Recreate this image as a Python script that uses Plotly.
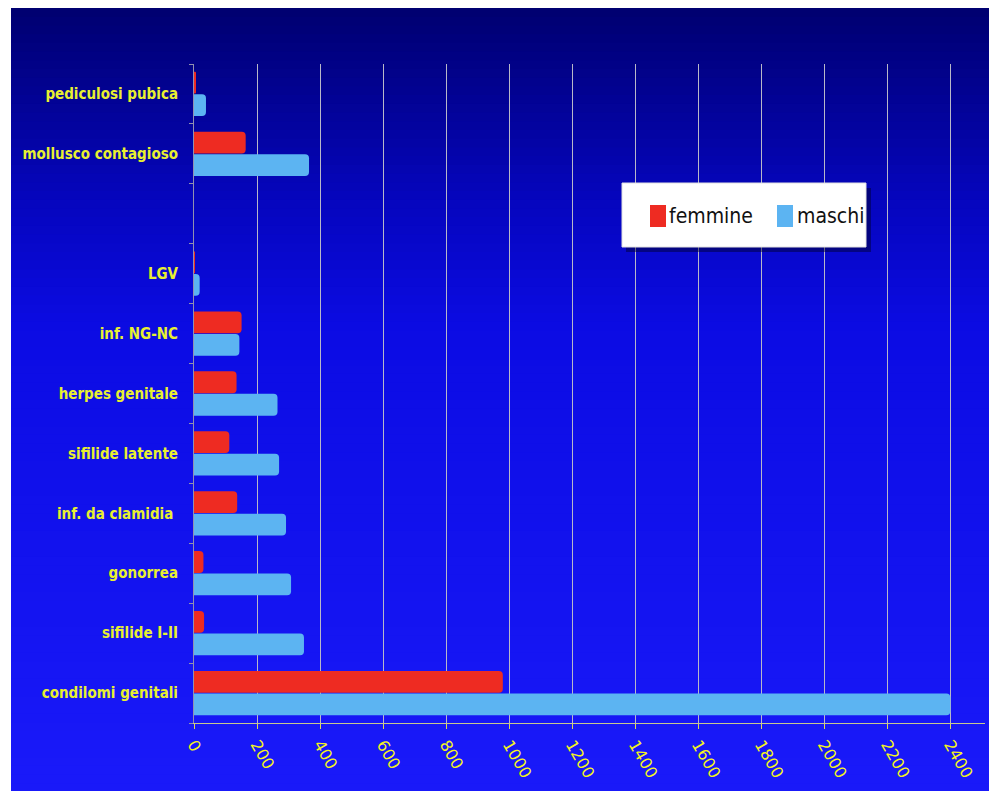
import plotly.graph_objects as go

categories = ["condilomi genitali", "sifilide I-II", "gonorrea", "inf. da clamidia ",
              "sifilide latente", "herpes genitale", "inf. NG-NC", "LGV", " ",
              "mollusco contagioso", "pediculosi pubica"]
femmine = [980, 32, 30, 137, 112, 135, 151, 3, None, 164, 5]
maschi = [2400, 349, 308, 292, 270, 265, 144, 18, None, 365, 38]
x_ticks = [0, 200, 400, 600, 800, 1000, 1200, 1400, 1600, 1800, 2000, 2200, 2400]
series_names = ["femmine", "maschi"]
series_colors = ["#ee2b22", "#5cb4f2"]

W, H = 989, 791
L, R, T, B = 194, 4, 64, 68
pw, ph = W - L - R, H - T - B

def px_x(p):
    return (p - L) / pw

def px_y(p):
    return (H - B - p) / ph

fig = go.Figure()
fig.add_trace(go.Bar(y=categories, x=maschi, orientation="h", name=series_names[1],
                     marker=dict(color=series_colors[1], line=dict(width=0)), showlegend=False))
fig.add_trace(go.Bar(y=categories, x=femmine, orientation="h", name=series_names[0],
                     marker=dict(color=series_colors[0], line=dict(width=0)), showlegend=False))

# gradient background panel
shapes = []
annotations = []
stops = [(8, (0, 0, 112)), (200, (6, 6, 190)), (330, (12, 12, 228)), (791, (26, 26, 250))]
n = 90
y0p, y1p = 8, 792
for i in range(n):
    a = y0p + (y1p - y0p) * i / n
    b = y0p + (y1p - y0p) * (i + 1) / n
    m = (a + b) / 2
    for j in range(len(stops) - 1):
        if stops[j][0] <= m <= stops[j + 1][0]:
            t = (m - stops[j][0]) / (stops[j + 1][0] - stops[j][0])
            c = tuple(int(stops[j][1][k] + t * (stops[j + 1][1][k] - stops[j][1][k])) for k in range(3))
            break
    shapes.append(dict(type="rect", xref="paper", yref="paper", layer="below",
                       x0=px_x(11), x1=px_x(W + 2), y0=px_y(min(b + 3, y1p)), y1=px_y(a),
                       fillcolor="rgb(%d,%d,%d)" % c, line=dict(width=0)))

# legend box (manual)
shapes.append(dict(type="rect", xref="paper", yref="paper", layer="above",
                   x0=px_x(626), x1=px_x(871), y0=px_y(252), y1=px_y(188),
                   fillcolor="rgba(0,0,40,0.45)", line=dict(width=0)))
shapes.append(dict(type="rect", xref="paper", yref="paper", layer="above",
                   x0=px_x(622), x1=px_x(866), y0=px_y(247), y1=px_y(183),
                   fillcolor="white", line=dict(color="#e0e0e0", width=1)))
sq = [(650, 666), (777, 793)]
tx = [667, 795]
for k in range(2):
    shapes.append(dict(type="rect", xref="paper", yref="paper", layer="above",
                       x0=px_x(sq[k][0]), x1=px_x(sq[k][1]), y0=px_y(227), y1=px_y(205),
                       fillcolor=series_colors[k], line=dict(width=0)))
    annotations.append(dict(xref="paper", yref="paper", x=px_x(tx[k]), y=px_y(216),
                            xanchor="left", yanchor="middle", showarrow=False,
                            text=series_names[k],
                            font=dict(family="DejaVu Sans Condensed, DejaVu Sans, sans-serif",
                                      size=21, color="#111111")))

fig.update_layout(
    width=W, height=H,
    margin=dict(l=L, r=R, t=T, b=B),
    paper_bgcolor="white",
    plot_bgcolor="rgba(0,0,0,0)",
    barmode="group",
    bargap=0.25,
    bargroupgap=0.03,
    barcornerradius=4,
    shapes=shapes,
    annotations=annotations,
    showlegend=False,
    xaxis=dict(range=[0, 2510], tickmode="array", tickvals=x_ticks,
               ticktext=[str(v) for v in x_ticks],
               tickangle=60, ticks="outside", ticklen=5, tickcolor="#d8d860",
               tickfont=dict(family="DejaVu Sans, sans-serif", size=16, color="#f4f420"),
               showgrid=True, gridcolor="#b8b8c8", gridwidth=1,
               showline=True, linecolor="#c8c890", linewidth=1, zeroline=False),
    yaxis=dict(type="category", categoryorder="array", categoryarray=categories,
               range=[-0.5, 10.5], tickson="boundaries", ticks="outside", ticklen=4,
               tickcolor="#9090b0",
               tickfont=dict(family="DejaVu Sans Condensed, DejaVu Sans, sans-serif", size=15,
                             color="#e8f030", weight="bold"),
               showline=True, linecolor="#9090b0", linewidth=1, showgrid=False,
               ticklabelstandoff=12),
)

fig.write_html("out.html")
